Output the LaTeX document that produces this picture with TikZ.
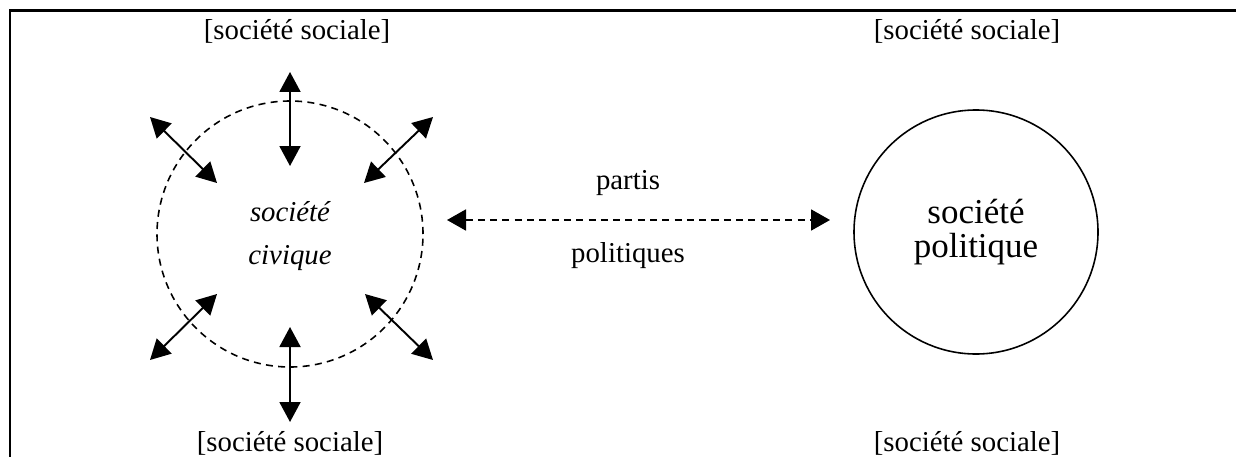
\documentclass[tikz,border=0pt]{standalone}
\usepackage{fontspec}
\setmainfont{Liberation Serif}
\usepackage{tikz}
\usetikzlibrary{arrows.meta, positioning, calc}

\begin{document}
\begin{tikzpicture}[x=0.02cm, y=-0.02cm]
		\tikzstyle{frameline}=[line width=1.6pt, black]
		\tikzstyle{label}=[font=\fontsize{16.4pt}{18pt}\selectfont, text=black, inner sep=0pt]
		\tikzstyle{biarrow}=[line width=1.1pt, {Triangle[length=0.4cm, width=0.42cm]}-{Triangle[length=0.4cm, width=0.42cm]}]
		\tikzstyle{dashbiarrow}=[line width=1.1pt, dash pattern=on 4pt off 3pt, {Triangle[length=0.38cm, width=0.42cm]}-{Triangle[length=0.38cm, width=0.42cm]}]
		
		\useasboundingbox (0,0) rectangle (1236,456);
		
		%% cadre
		\draw [frameline] (1240,10.5) -- (10,10.5) -- (10,460);
		
		%% societe sociale
		\node [label] (SSnw) at (297,31) {[société sociale]};
		\node [label] (SSne) at (967,31) {[société sociale]};
		\node [label] (SSsw) at (290,443) {[société sociale]};
		\node [label] (SSse) at (967,443) {[société sociale]};
		
		%% societe civique
		\node [draw, circle, dash pattern=on 4pt off 3pt, line width=0.9pt, minimum size=266*0.02cm, inner sep=0pt] (SC) at (290,234) {};
		\node [label, align=center, font=\fontsize{16.4pt}{24pt}\selectfont\itshape] (SCtext) at (290,236) {société\\civique};
		
		%% fleches autour
		\coordinate (Na) at (290,72);  \coordinate (Nb) at (290,166);
		\coordinate (Sa) at (290,327); \coordinate (Sb) at (290,422);
		\coordinate (NWa) at (150,117); \coordinate (NWb) at (217,183);
		\coordinate (NEa) at (433,117); \coordinate (NEb) at (364,183);
		\coordinate (SWa) at (150,360); \coordinate (SWb) at (217,294);
		\coordinate (SEa) at (433,360); \coordinate (SEb) at (365,294);
		\draw [biarrow] (Na) -- (Nb);
		\draw [biarrow] (Sa) -- (Sb);
		\draw [biarrow] (NWa) -- (NWb);
		\draw [biarrow] (NEa) -- (NEb);
		\draw [biarrow] (SWa) -- (SWb);
		\draw [biarrow] (SEa) -- (SEb);
		
		%% societe politique
		\node [draw, circle, line width=0.9pt, minimum size=244*0.02cm, inner sep=0pt] (SP) at (976,232) {};
		\node [label, align=center, font=\fontsize{19.9pt}{19pt}\selectfont] (SPtext) at (976,232) {société\\politique};
		
		%% partis politiques
		\coordinate (PPw) at (447,220);
		\coordinate (PPe) at (830,220);
		\draw [dashbiarrow] (PPw) -- (PPe);
		\node [label] (PPa) at (628,183) {partis};
		\node [label] (PPb) at (628,256) {politiques};
		
		\end{tikzpicture}
\end{document}
